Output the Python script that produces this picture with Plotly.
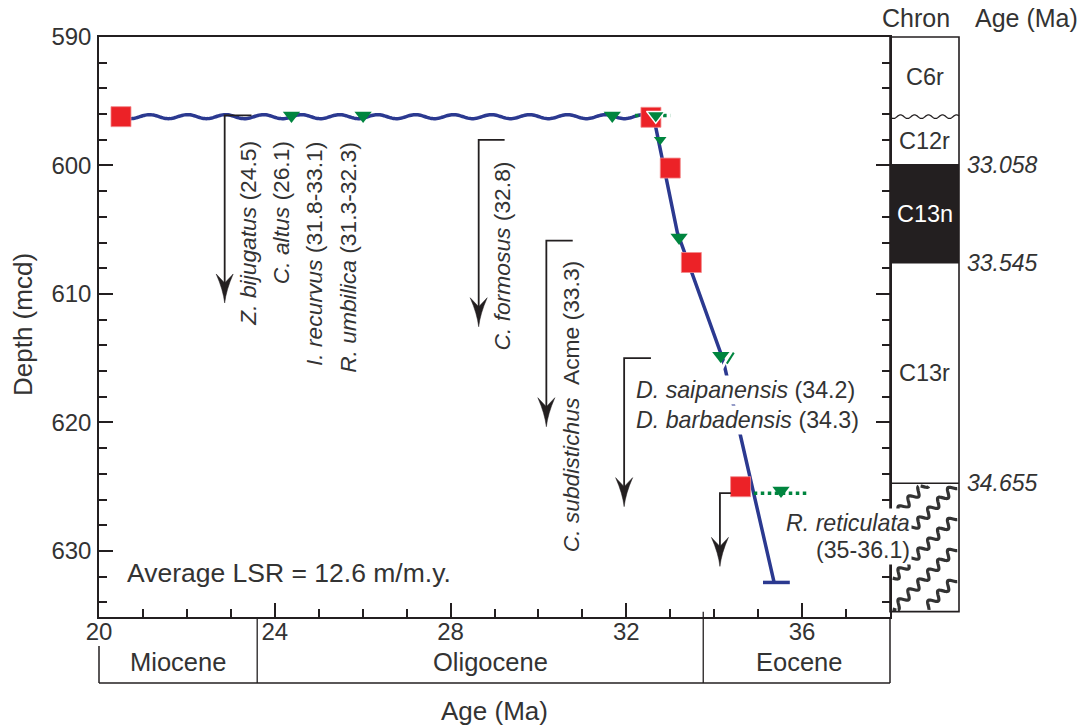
import numpy as np
import plotly.graph_objects as go

# ---------------- data ----------------
x_ticks = [20, 24, 28, 32, 36]
y_ticks = [590, 600, 610, 620, 630]

# paleomagnetic datums (red squares)
pmag_age = [20.5, 32.56, 33.0, 33.48, 34.6]
pmag_depth = [596.2, 596.25, 600.2, 607.55, 625.0]

# biostratigraphic datums (green triangles)
bio_age = [24.38, 26.01, 31.68, 33.2, 34.15, 35.52]
bio_depth = [596.1, 596.1, 596.1, 605.6, 614.8, 625.3]
bio_small_age = [32.77]
bio_small_depth = [598.0]
bio_hiatus_age = [32.67]
bio_hiatus_depth = [596.1]

# age-depth model
hiatus_age = [20.5, 32.62]
hiatus_depth = 596.2
model_age = [32.62, 33.16, 34.20, 35.36]
model_depth = [596.2, 605.2, 615.1, 632.4]

# datum age ranges (dotted)
range_age_min = [32.2, 34.9]
range_age_max = [33.0, 36.1]
range_depth = [596.1, 625.5]

# magnetic chrons
chron_names = ["C6r", "C12r", "C13n", "C13r"]
chron_top = [590.0, 596.2, 599.95, 607.56]
chron_base = [596.2, 599.95, 607.56, 624.73]
chron_boundary_age = ["33.058", "33.545", "34.655"]
chron_boundary_depth = [599.95, 607.56, 624.73]
hatch_base = 634.72

# epochs
epoch_names = ["Miocene", "Oligocene", "Eocene"]
epoch_bounds = [20.0, 23.6, 33.75, 38.0]
epoch_label_age = [21.8, 28.9, 35.95]

# datum labels (rotated)
rot_labels = ["<i>Z. bijugatus</i> (24.5)", "<i>C. altus</i> (26.1)",
              "<i>I. recurvus</i> (31.8-33.1)", "<i>R. umbilica</i> (31.3-32.3)",
              "<i>C. formosus</i> (32.8)", "<i>C. subdistichus</i>\u00a0\u00a0Acme (33.3)"]
rot_label_age = [23.40, 24.14, 24.89, 25.65, 29.16, 30.76]
rot_label_top = [598.0, 598.0, 598.1, 598.1, 599.6, 607.35]

# bracket arrows ("datum below")
arrow_age = [22.86, 28.64, 30.18, 31.95, 34.13]
arrow_bar_end = [23.47, 29.23, 30.78, 32.56, 34.38]
arrow_top = [596.1, 598.0, 605.85, 615.0, 625.5]
arrow_tip = [610.7, 612.55, 620.33, 626.55, 631.2]

# ---------------- style / geometry ----------------
FONT = "Liberation Sans"
TXT = "#333333"
INK = "#231f20"
BLUE = "#2b3990"
RED = "#ec2227"
GREEN = "#00853f"

W, H = 1086, 727
X0_PX, X1_PX, Y0_PX, Y1_PX = 99, 890, 37, 617
X_RANGE = [20, 38]
Y_RANGE = [635.14, 590]

AGE_PER_PX = (X_RANGE[1] - X_RANGE[0]) / (X1_PX - X0_PX)
M_PER_PX = (Y_RANGE[0] - Y_RANGE[1]) / (Y1_PX - Y0_PX)


def pxx(px):
    return (px - X0_PX) / (X1_PX - X0_PX)


def pxy(py):
    return (Y1_PX - py) / (Y1_PX - Y0_PX)


def px_depth(py):
    return Y_RANGE[1] + (py - Y0_PX) * M_PER_PX


def depth_paper(d):
    return (Y_RANGE[0] - d) / (Y_RANGE[0] - Y_RANGE[1])


def wavy(x0, x1, y, period, amp, n_per=28):
    n = int(abs(x1 - x0) / period * n_per) + 2
    xs = np.linspace(x0, x1, n)
    ys = y + amp * np.sin(2 * np.pi * (xs - x0) / period)
    return "M" + " L".join(f"{a:.5f},{b:.5f}" for a, b in zip(xs, ys))


def hatch_paths():
    paths = []
    left, right, top, bot = 892.0, 957.5, 486.0, 610.0
    s = np.sqrt(0.5)
    for c in np.arange(452, 640, 31):
        t = np.arange(-40, 220, 0.5)
        bx = 958 - t * s
        by = c + t * s
        w = 3.8 * np.sin(2 * np.pi * t / 14.0)
        x = bx + w * s
        y = by + w * s
        ins = (x >= left) & (x <= right) & (y >= top) & (y <= bot)
        run = []
        for xi, yi, ok in zip(x, y, ins):
            if ok:
                run.append((pxx(xi), px_depth(yi)))
            elif run:
                if len(run) > 3:
                    paths.append(run)
                run = []
        if len(run) > 3:
            paths.append(run)
    return ["M" + " L".join(f"{a:.5f},{b:.5f}" for a, b in r) for r in paths]


fig = go.Figure()

# age model
fig.add_trace(go.Scatter(x=model_age, y=model_depth, mode="lines",
                         line=dict(color=BLUE, width=3.5), hoverinfo="skip"))
fig.add_trace(go.Scatter(x=[model_age[-1] - 0.25, model_age[-1] + 0.36],
                         y=[model_depth[-1] + 0.05] * 2, mode="lines",
                         line=dict(color=BLUE, width=3.5), hoverinfo="skip"))
# datum ranges
for a0, a1, d in zip(range_age_min, range_age_max, range_depth):
    fig.add_trace(go.Scatter(x=[a0, a1], y=[d, d], mode="lines",
                             line=dict(color=GREEN, width=3.5, dash="dot"), hoverinfo="skip"))
# squares
fig.add_trace(go.Scatter(x=pmag_age, y=pmag_depth, mode="markers",
                         marker=dict(symbol="square", size=20, color=RED,
                                     line=dict(width=0.8, color="#f28a8c")), hoverinfo="skip"))
# triangles
fig.add_trace(go.Scatter(x=bio_age, y=bio_depth, mode="markers",
                         marker=dict(symbol="triangle-down", size=15, color=GREEN,
                                     line=dict(width=0)), hoverinfo="skip"))
fig.add_trace(go.Scatter(x=bio_small_age, y=bio_small_depth, mode="markers",
                         marker=dict(symbol="triangle-down", size=11, color=GREEN,
                                     line=dict(width=0)), hoverinfo="skip"))
fig.add_trace(go.Scatter(x=bio_hiatus_age, y=bio_hiatus_depth, mode="markers",
                         marker=dict(symbol="triangle-down", size=16, color=GREEN,
                                     line=dict(width=1.5, color="white")), hoverinfo="skip"))

shapes = []
# hiatus wavy line
shapes.append(dict(type="path", xref="x", yref="y", layer="below",
                   path=wavy(hiatus_age[0], hiatus_age[1], hiatus_depth,
                             38 * AGE_PER_PX, 2.0 * M_PER_PX),
                   line=dict(color=BLUE, width=3.5)))

# break mark near the D. saipanensis datum
shapes.append(dict(type="path", xref="x", yref="y", xsizemode="pixel", ysizemode="pixel",
                   xanchor=bio_age[4], yanchor=bio_depth[4],
                   path="M1,-13 L8,0", line=dict(color="white", width=3)))
shapes.append(dict(type="path", xref="x", yref="y", xsizemode="pixel", ysizemode="pixel",
                   xanchor=bio_age[4], yanchor=bio_depth[4],
                   path="M6,-8 L13,3", line=dict(color=GREEN, width=2)))

# bracket arrows
for a, b, top, tip in zip(arrow_age, arrow_bar_end, arrow_top, arrow_tip):
    shapes.append(dict(type="path", xref="x", yref="y",
                       path=f"M{b},{top} L{a},{top} L{a},{tip - 14 * M_PER_PX}",
                       line=dict(color=INK, width=1.8)))
    shapes.append(dict(type="path", xref="x", yref="y", xsizemode="pixel", ysizemode="pixel",
                       xanchor=a, yanchor=tip,
                       path="M0,0 Q-1.5,13 -8.5,29 L0,20 L8.5,29 Q1.5,13 0,0 Z",
                       fillcolor=INK, line=dict(color=INK, width=0.5)))

# chron column
CX0, CX1 = pxx(890), pxx(959)
shapes.append(dict(type="rect", xref="paper", yref="y", x0=CX0, x1=CX1,
                   y0=chron_top[2], y1=chron_base[2], fillcolor=INK, line=dict(width=0)))
for d in chron_boundary_depth:
    shapes.append(dict(type="line", xref="paper", yref="y", x0=CX0, x1=CX1, y0=d, y1=d,
                       line=dict(color=INK, width=1.5)))
shapes.append(dict(type="path", xref="paper", yref="y",
                   path=wavy(CX0, CX1, chron_base[0], 14 / (X1_PX - X0_PX), 1.8 * M_PER_PX),
                   line=dict(color=INK, width=1.3)))
for p in hatch_paths():
    shapes.append(dict(type="path", xref="paper", yref="y", path=p,
                       line=dict(color="#333333", width=3.2)))
shapes.append(dict(type="rect", xref="paper", yref="paper", x0=CX0, x1=CX1,
                   y0=depth_paper(hatch_base), y1=1.0, line=dict(color=INK, width=1.6)))

# epoch band
band_bottom = pxy(683)
shapes.append(dict(type="line", xref="paper", yref="paper", x0=0, x1=1,
                   y0=band_bottom, y1=band_bottom, line=dict(color=INK, width=1.5)))
shapes.append(dict(type="line", xref="paper", yref="paper", x0=0, x1=0,
                   y0=pxy(646), y1=band_bottom, line=dict(color=INK, width=1.5)))
shapes.append(dict(type="line", xref="paper", yref="paper", x0=1, x1=1,
                   y0=0, y1=band_bottom, line=dict(color=INK, width=1.5)))
shapes.append(dict(type="line", xref="x", yref="paper", x0=epoch_bounds[1], x1=epoch_bounds[1],
                   y0=0, y1=band_bottom, line=dict(color=INK, width=1.3)))
shapes.append(dict(type="line", xref="x", yref="paper", x0=epoch_bounds[2], x1=epoch_bounds[2],
                   y0=0.009, y1=band_bottom, line=dict(color=INK, width=1.3)))

ann = []


def text(x, y, t, size, xref="x", yref="y", xanchor="center", yanchor="middle",
         angle=0, color=TXT, bg=None):
    d = dict(x=x, y=y, text=t, xref=xref, yref=yref, xanchor=xanchor, yanchor=yanchor,
             textangle=angle, showarrow=False, borderpad=0,
             font=dict(family=FONT, size=size, color=color))
    if bg:
        d["bgcolor"] = bg
        d["borderpad"] = 1
    ann.append(d)


for t, a, top in zip(rot_labels, rot_label_age, rot_label_top):
    text(a, top, t, 22.8, xanchor="center", yanchor="top", angle=-90)

text(32.18, 617.47, "<i>D. saipanensis</i> (34.2)", 23.2, xanchor="left", bg="white")
text(32.18, 619.8, "<i>D. barbadensis</i> (34.3)", 23.2, xanchor="left", bg="white")
text(pxx(912), 627.8, "<i>R. reticulata</i>", 23.2, xref="paper", xanchor="right", bg="white")
text(pxx(912), 629.9, "(35-36.1)", 23.2, xref="paper", xanchor="right", bg="white")
text(20.62, 631.7, "Average LSR = 12.6 m/m.y.", 26.5, xanchor="left")

# chron labels
for name, t0, t1 in zip(chron_names, chron_top, chron_base):
    text((CX0 + CX1) / 2, (t0 + t1) / 2, name, 23.5, xref="paper",
         color="white" if name == "C13n" else TXT)
for a, d in zip(chron_boundary_age, chron_boundary_depth):
    text(pxx(966), d, f"<i>{a}</i>", 23, xref="paper", xanchor="left")
text(pxx(916), pxy(18), "Chron", 25, xref="paper", yref="paper")
text(pxx(1026.5), pxy(18), "Age (Ma)", 25, xref="paper", yref="paper")

# epoch labels
for name, a in zip(epoch_names, epoch_label_age):
    text(a, pxy(662), name, 25.5, yref="paper")

# axis titles
text(pxx(494.5), pxy(711), "Age (Ma)", 26, xref="paper", yref="paper")
text(pxx(23), pxy(325), "Depth (mcd)", 26, xref="paper", yref="paper", angle=-90)

axis_common = dict(showline=True, linecolor=INK, linewidth=1.5, ticks="inside",
                   ticklen=14, tickwidth=1.5, tickcolor=INK, showgrid=False, zeroline=False,
                   tickfont=dict(family=FONT, size=24, color=TXT))

fig.update_layout(
    width=W, height=H,
    margin=dict(l=X0_PX, r=W - X1_PX, t=Y0_PX, b=H - Y1_PX),
    paper_bgcolor="white", plot_bgcolor="white",
    showlegend=False,
    xaxis=dict(range=X_RANGE, tickmode="array", tickvals=x_ticks,
               ticktext=[str(v) for v in x_ticks], mirror=True, ticklabelstandoff=-8,
               minor=dict(ticks="inside", ticklen=8, tickwidth=1.5, tickcolor=INK,
                          tickmode="linear", tick0=20, dtick=1),
               **axis_common),
    yaxis=dict(range=Y_RANGE, tickmode="array", tickvals=y_ticks,
               ticktext=[str(v) for v in y_ticks], mirror="ticks", ticklabelstandoff=1,
               minor=dict(ticks="inside", ticklen=8, tickwidth=1.5, tickcolor=INK,
                          tickmode="linear", tick0=590, dtick=2),
               **axis_common),
    shapes=shapes,
    annotations=ann,
)

fig.write_html("out.html", config={"displayModeBar": False},
               post_script="document.body.style.margin='0';document.body.style.overflow='hidden';")
